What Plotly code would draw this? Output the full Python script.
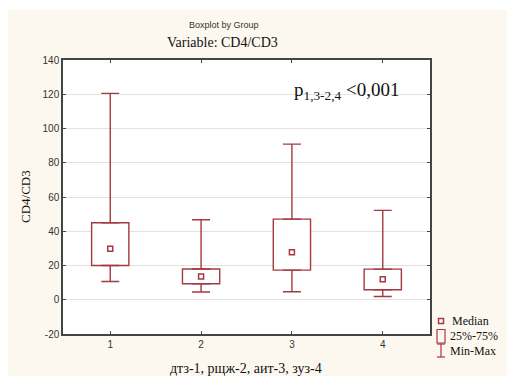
import plotly.graph_objects as go

groups = [1, 2, 3, 4]
mins = [10.7, 4.5, 4.7, 1.9]
q1 = [20.0, 9.3, 17.3, 5.8]
medians = [29.8, 13.6, 27.8, 11.9]
q3 = [45.0, 18.0, 47.1, 17.9]
maxs = [120.5, 46.7, 90.9, 52.2]
y_ticks = [-20, 0, 20, 40, 60, 80, 100, 120, 140]
y_tick_labels = ["-20", "0", "20", "40", "60", "80", "100", "120", "140"]

RED = "#a53a40"
SERIF = "Liberation Serif, Times New Roman, serif"
SANS = "Liberation Sans, Arial, sans-serif"

fig = go.Figure()

# upper whiskers (from Q3 to max, with caps)
fig.add_trace(go.Scatter(
    x=groups, y=q3, mode="markers", marker=dict(opacity=0, color=RED),
    error_y=dict(type="data", symmetric=False,
                 array=[m - q for m, q in zip(maxs, q3)],
                 arrayminus=[0] * 4, color=RED, thickness=1.4, width=9),
    showlegend=False, hoverinfo="skip"))
# lower whiskers (from Q1 to min)
fig.add_trace(go.Scatter(
    x=groups, y=q1, mode="markers", marker=dict(opacity=0, color=RED),
    error_y=dict(type="data", symmetric=False,
                 array=[0] * 4,
                 arrayminus=[q - m for q, m in zip(q1, mins)],
                 color=RED, thickness=1.4, width=9),
    showlegend=False, hoverinfo="skip"))
# boxes 25%-75%
fig.add_trace(go.Bar(
    x=groups, y=[b - a for a, b in zip(q1, q3)], base=q1, width=0.41,
    marker=dict(color="white", line=dict(color=RED, width=1.4)),
    showlegend=False, hoverinfo="skip"))
# medians
fig.add_trace(go.Scatter(
    x=groups, y=medians, mode="markers",
    marker=dict(symbol="square-open", size=5, color=RED, line=dict(width=1.5)),
    showlegend=False, hoverinfo="skip"))

L, R, T, B = 63, 77, 60, 42
W, H = 507, 376
pw, ph = W - L - R, H - T - B

def px(x):
    return (x - L) / pw

def py(y):
    return (H - B - y) / ph

shapes = [
    # white strips at the top and left edge of the image
    dict(type="rect", xref="paper", yref="paper", x0=px(0), x1=px(W), y0=py(10), y1=py(-5),
         fillcolor="white", line=dict(width=0), layer="below"),
    dict(type="rect", xref="paper", yref="paper", x0=px(-5), x1=px(8), y0=py(H + 5), y1=py(-5),
         fillcolor="white", line=dict(width=0), layer="below"),
    # legend icons
    dict(type="rect", xref="paper", yref="paper", x0=px(438.5), x1=px(443.5), y0=py(323.5), y1=py(318.5),
         line=dict(color=RED, width=1.5), fillcolor="rgba(0,0,0,0)"),
    dict(type="rect", xref="paper", yref="paper", x0=px(437), x1=px(445), y0=py(343), y1=py(329.5),
         line=dict(color=RED, width=1.2), fillcolor="rgba(0,0,0,0)"),
    dict(type="line", xref="paper", yref="paper", x0=px(441), x1=px(441), y0=py(357), y1=py(344),
         line=dict(color=RED, width=1.2)),
    dict(type="line", xref="paper", yref="paper", x0=px(437), x1=px(445), y0=py(344), y1=py(344),
         line=dict(color=RED, width=1.2)),
    dict(type="line", xref="paper", yref="paper", x0=px(437), x1=px(445), y0=py(357), y1=py(357),
         line=dict(color=RED, width=1.2)),
]

def ann(text, x, y, font, xanchor="center", **kw):
    return dict(text=text, xref="paper", yref="paper", x=px(x), y=py(y),
                xanchor=xanchor, yanchor="middle", showarrow=False, font=font, **kw)

annotations = [
    ann("Boxplot by Group", 224, 25, dict(family=SANS, size=9, color="#333")),
    ann("Variable: CD4/CD3", 222, 43, dict(family=SERIF, size=14, color="#111")),
    ann("p<sub>1,3-2,4</sub> <0,001", 292, 91, dict(family=SERIF, size=19, color="#111"),
        xanchor="left"),
    ann("CD4/CD3", 25, 197, dict(family=SERIF, size=13, color="#111"), textangle=-90),
    ann("дтз-1, рщж-2, аит-3, зуз-4", 246, 368, dict(family=SERIF, size=14, color="#111")),
    ann("Median", 450, 321, dict(family=SERIF, size=12, color="#111"), xanchor="left"),
    ann("25%-75%", 448, 336, dict(family=SERIF, size=12, color="#111"), xanchor="left"),
    ann("Min-Max", 448, 350.5, dict(family=SERIF, size=12, color="#111"), xanchor="left"),
]

fig.update_layout(
    width=W, height=H,
    margin=dict(l=L, r=R, t=T, b=B, autoexpand=False),
    paper_bgcolor="#fdf8ef", plot_bgcolor="white",
    showlegend=False, barmode="overlay",
    shapes=shapes, annotations=annotations,
    xaxis=dict(range=[0.48, 4.52], tickvals=groups, ticktext=[str(g) for g in groups],
               showgrid=False, zeroline=False, showline=True, linecolor="#444", linewidth=1.5,
               mirror="ticks", ticks="inside", ticklen=3, tickcolor="#444", automargin=False,
               tickfont=dict(family=SANS, size=10, color="#333")),
    yaxis=dict(range=[-20, 140], tickvals=y_ticks, ticktext=y_tick_labels,
               showgrid=True, gridcolor="#e2e2e2", gridwidth=1, zeroline=False,
               showline=True, linecolor="#444", linewidth=1.5, automargin=False,
               mirror="ticks", ticks="inside", ticklen=3, tickcolor="#444",
               tickfont=dict(family=SANS, size=10, color="#333")),
)

fig.write_html("out.html", config={"displayModeBar": False},
               post_script="document.body.style.margin='0';")
